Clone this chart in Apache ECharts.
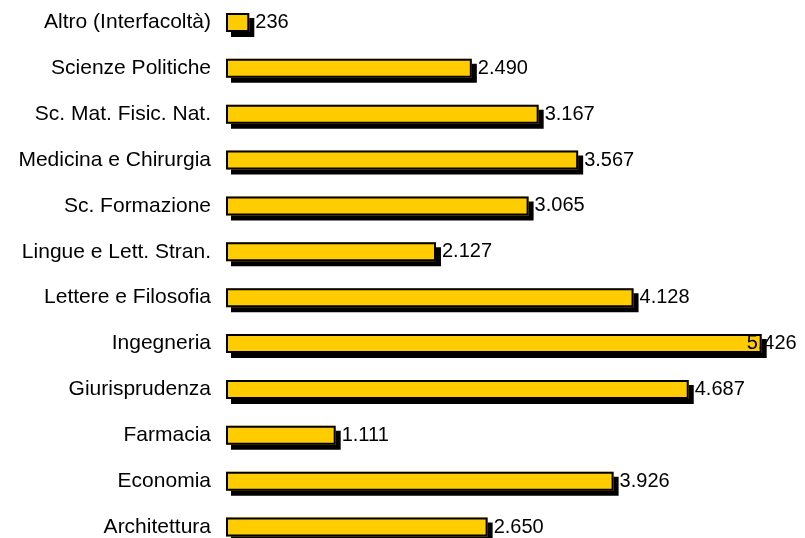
<!DOCTYPE html>
<html>
<head>
<meta charset="utf-8">
<script src="https://cdn.jsdelivr.net/npm/echarts@6/dist/echarts.min.js"></script>
<style>
  html, body { margin: 0; padding: 0; background: #fff; }
  #main { width: 805px; height: 538px; }
</style>
</head>
<body>
<div id="main"></div>
<script>
// categories bottom -> top (category axis starts from the bottom)
var facolta = ["Architettura", "Economia", "Farmacia", "Giurisprudenza", "Ingegneria",
  "Lettere e Filosofia", "Lingue e Lett. Stran.", "Sc. Formazione", "Medicina e Chirurgia",
  "Sc. Mat. Fisic. Nat.", "Scienze Politiche", "Altro (Interfacoltà)"];
var iscritti = [2650, 3926, 1111, 4687, 5426, 4128, 2127, 3065, 3567, 3167, 2490, 236];

function fmt(v) {
  return String(v).replace(/\B(?=(\d{3})+(?!\d))/g, ".");
}

var chart = echarts.init(document.getElementById('main'));
var maxVal = Math.max.apply(null, iscritti);
var labelData = iscritti.map(function (v) {
  var item = { value: v };
  // the biggest bar: label pushed back over the bar end, as in the original
  if (v === maxVal) {
    item.label = { offset: [-21, 0] };
  }
  return item;
});

var font = 'Liberation Sans, Arial, sans-serif';

chart.setOption({
  animation: false,
  grid: { left: 226, top: 22.5, bottom: 11, width: 543 },
  xAxis: {
    type: 'value',
    min: 0,
    max: 5500,
    show: false
  },
  yAxis: {
    type: 'category',
    data: facolta,
    boundaryGap: false,
    axisLine: { show: false },
    axisTick: { show: false },
    splitLine: { show: false },
    axisLabel: {
      color: '#000',
      fontFamily: font,
      fontSize: 21,
      margin: 15
    }
  },
  series: [{
    // yellow fill with hard black drop shadow
    type: 'bar',
    data: iscritti,
    barWidth: 19,
    barGap: '-100%',
    itemStyle: {
      color: '#FFCC00',
      shadowColor: '#000',
      shadowBlur: 0,
      shadowOffsetX: 5,
      shadowOffsetY: 5
    }
  }, {
    // black outline on top, carries the value labels
    type: 'bar',
    data: labelData,
    barWidth: 19,
    barGap: '-100%',
    itemStyle: {
      color: 'rgba(0,0,0,0)',
      borderColor: '#000',
      borderWidth: 2
    },
    label: {
      show: true,
      position: 'right',
      distance: 6,
      color: '#000',
      fontFamily: font,
      fontSize: 20,
      formatter: function (p) { return fmt(p.value); }
    }
  }]
});
</script>
</body>
</html>
